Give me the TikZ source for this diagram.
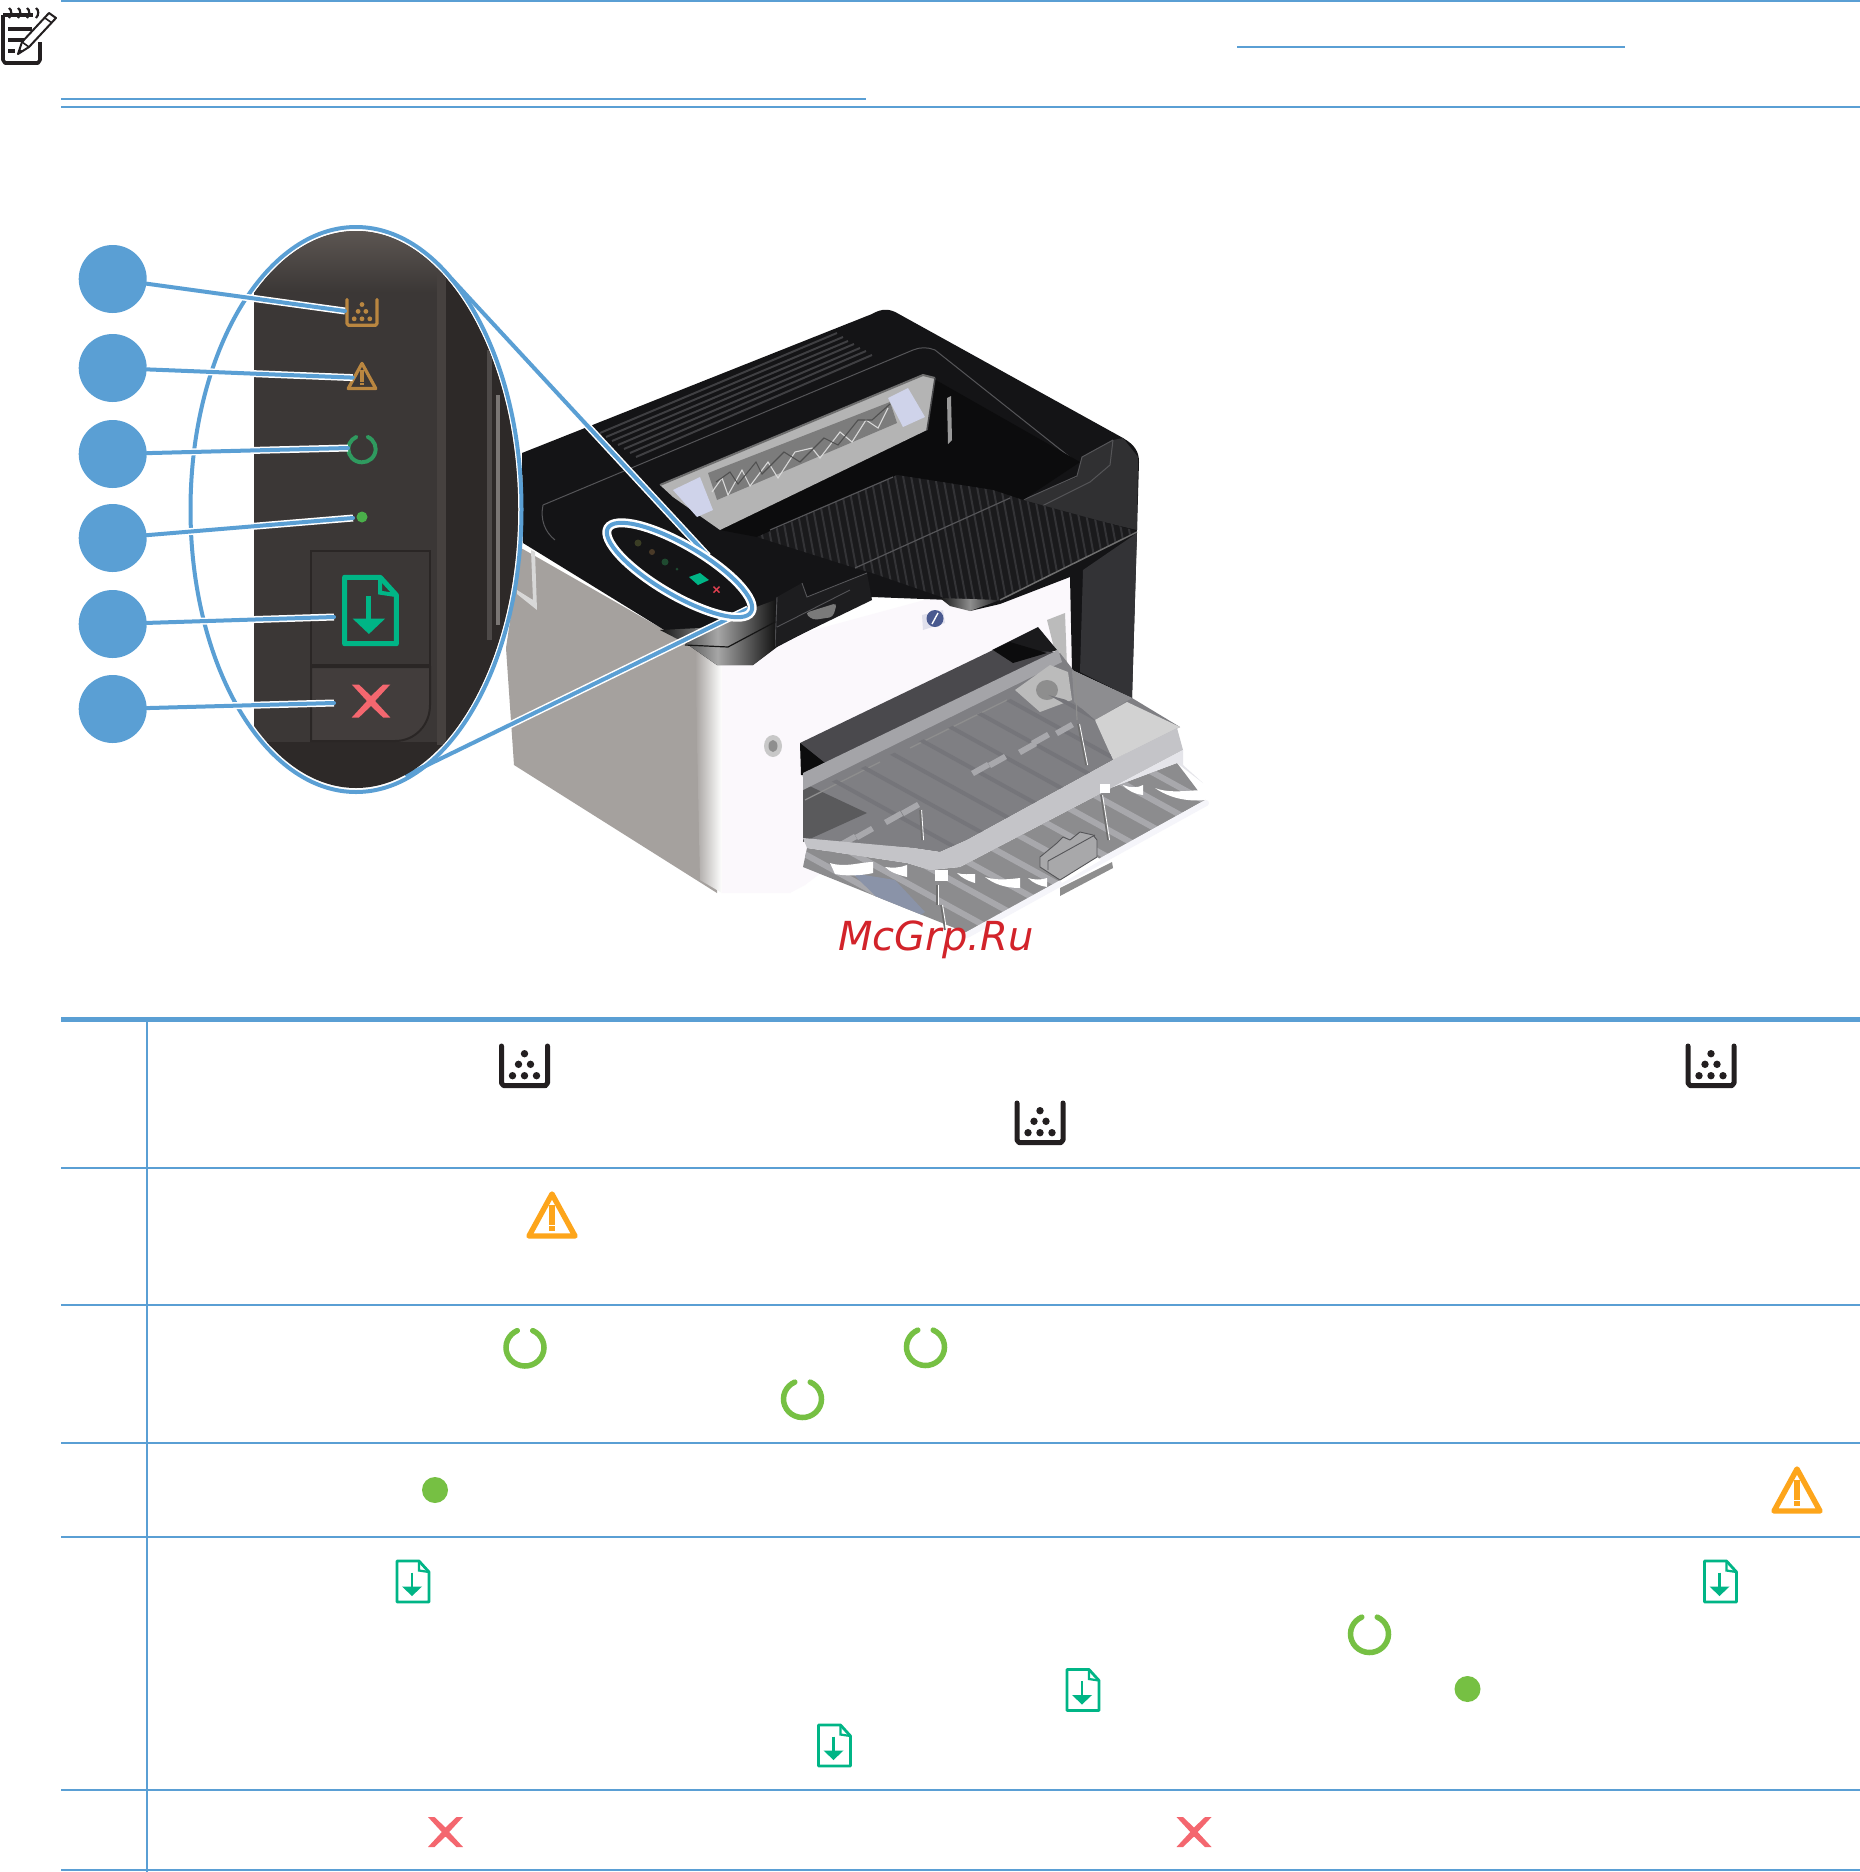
\documentclass[tikz,border=0pt]{standalone}
\usepackage{fontspec}
\newfontfamily\wmfont{DejaVu Sans}
\usetikzlibrary{shapes.geometric,calc}
\definecolor{hpblue}{HTML}{5A9FD4}
\definecolor{iamber}{HTML}{FDA51B}
\definecolor{igreen}{HTML}{76C043}
\definecolor{idoc}{HTML}{00B586}
\definecolor{ired}{HTML}{F4676F}
\definecolor{ink}{HTML}{231F20}
\definecolor{pamber}{HTML}{B98640}
\definecolor{pgreen}{HTML}{2F9A5F}
\definecolor{wmred}{HTML}{D2232A}
\definecolor{pbase}{HTML}{3B3736}
\definecolor{pdark}{HTML}{2D2928}
\definecolor{side}{HTML}{A5A19E}
\definecolor{blk}{HTML}{141416}
\newcommand{\hx}[1]{\definecolor{c#1}{HTML}{#1}}
\hx{0C0C0D}\hx{1A1A1C}\hx{333336}\hx{303032}\hx{3F3F42}\hx{4A4A4C}\hx{555558}\hx{7C7C7C}\hx{B4B4B4}\hx{6E6E6E}\hx{D8D8D8}\hx{505050}\hx{CFD3EA}\hx{9A9A9A}\hx{151515}\hx{1D1D1F}\hx{7A7A7A}\hx{8E8E8E}\hx{A6A6A6}\hx{E0E0EC}\hx{4A5A90}\hx{C8C8C8}\hx{4A494D}\hx{BBBBBB}\hx{7F7F83}\hx{75757A}\hx{5A5A5C}\hx{A4A4A8}\hx{D2D2D2}\hx{8C8C8E}\hx{A8A8AC}\hx{8A93A8}\hx{A8A8AA}\hx{C4C4C8}\hx{E5E5EA}\hx{F5F5FA}\hx{FBF8FC}\hx{E04050}\hx{3A3D24}\hx{4A3A28}\hx{1F4A30}\hx{5F5854}\hx{46413F}\hx{4E4A49}\hx{7A7674}\hx{2A2625}\hx{423D3C}\hx{4AAF4A}\hx{8D8D90}
\newcommand{\tonerIcon}[4]{\begin{scope}[shift={(#1,#2)},scale=#3]
 \draw[#4,line width=#3*5pt,line cap=round,line join=round] (-23,-20)--(-23,17)--(-21,19.5)--(21,19.5)--(23,17)--(23,-20);
 \fill[#4] (-22,17.5) rectangle (22,22);
 \foreach \a/\b in {0/-12.3,-6/-1.7,6/-1.7,-12/9.7,0/9.7,12/9.7}{\fill[#4] (\a,\b) circle[radius=3.7];}
\end{scope}}
\newcommand{\warnIcon}[4]{\begin{scope}[shift={(#1,#2)},scale=#3]
 \draw[#4,line width=#3*5.4pt,line join=round] (0,-21)--(23,21)--(-23,21)--cycle;
 \fill[#4] (-3,-10.5) rectangle (3,9.5);
 \fill[#4] (-3,11) rectangle (3,15.5);
\end{scope}}
\newcommand{\ringIcon}[4]{\draw[#4,line width=#3*5.5pt,line cap=round] (#1,#2) ++(-66:#3*19 and #3*18.5) arc[start angle=-66,end angle=246,x radius=#3*19,y radius=#3*18.5];}
\newcommand{\docIcon}[5]{\begin{scope}[shift={(#1,#2)},scale=#3]
 \draw[#4,line width=#5,line join=round] (-16,-20.5)--(6,-20.5)--(16,-9.5)--(16,20.5)--(-16,20.5)--cycle;
 \draw[#4,line width=#5*.8] (6,-20.5)--(6,-11)--(16,-9.5);
 \draw[#4,line width=#5] (-1,-9)--(-1,6);
 \fill[#4] (-11,5)--(9,5)--(-1,14.5)--cycle;
\end{scope}}
\newcommand{\xIcon}[3]{\begin{scope}[shift={(#1,#2)},scale=#3]
 \fill[ired] (-17.5,-15)--(-11,-15)--(0,-4.5)--(11,-15)--(17.5,-15)--(3.7,0)--(17.5,15)--(11,15)--(0,4.5)--(-11,15)--(-17.5,15)--(-3.7,0)--cycle;
\end{scope}}
\tikzset{
 rule/.style={hpblue,line width=2pt},
 thick rule/.style={hpblue,line width=5pt},
 callout/.style={circle,fill=hpblue,minimum size=68pt,inner sep=0pt},
 halo/.style={preaction={draw,white,line width=7pt},draw=hpblue,line width=4pt,line cap=round},
 oval/.style={ellipse,draw=hpblue,inner sep=0pt},
}
\begin{document}
\begin{tikzpicture}[x=1pt,y=-1pt]
\useasboundingbox (0,0) rectangle (1860,1872);
\fill[white] (0,0) rectangle (1860,1872);
%% ---- note block
\draw[rule] (61,1)--(1860,1);
\draw[rule] (1237,47)--(1625,47);
\draw[rule] (61,99)--(866,99);
\draw[rule] (61,107)--(1860,107);
% note icon
\draw[ink,line width=3.6pt,line join=round] (3,15)--(3,60)--(5,63)--(38,63)--(40,60)--(40,42);
\draw[ink,line width=3.4pt] (3,15)--(33,15);
\foreach \a in {9,18,27,36}{\draw[ink,line width=2.2pt] (\a,8) .. controls (\a+3,10) and (\a+3,15) .. (\a,18);}
\draw[ink,line width=4pt] (8,29)--(32,29);
\draw[ink,line width=4pt] (8,40)--(24,40);
\draw[ink,line width=4pt] (8,51)--(15,51);
\draw[ink,line width=2pt,line join=round] (18,54)--(22,42)--(49,13)--(56,18)--(29,47)--cycle;
\draw[ink,line width=1.6pt] (22,42)--(29,47) (45,18)--(52,23);
\fill[ink] (18,54)--(19.5,49)--(23,51)--cycle;
%% ---- printer : side
\fill[side] (521,548)--(506,648)--(514,765)--(717,893)--(717,660)--cycle;
\shade[left color=side,right color=white] (695,650)--(722,665)--(722,893)--(700,880)--cycle;
\fill[cD8D8D8] (531,550)--(535,552)--(537,610)--(517,594)--(517,590)--(533,600)--cycle;
% front
\fill[cFBF8FC] (722,662)--(777,640)--(1072,560)--(1075,680)--(805,885)--(790,893)--(722,893)--cycle;
% body
\fill[blk] (522,453)--(872,314) .. controls (882,308) and (890,309) .. (897,313)--(1123,438) .. controls (1135,445) and (1139,452) .. (1139,462)--(1132,698)--(1072,670)--(1070,577)--(1000,604)--(970,611)--(950,600)--(872,597)--(777,647)--(753,665)--(717,665)--(687,644)--(523,543)--cycle;
% column
\fill[c333336] (1083,570)--(1137,533)--(1132,698)--(1080,672)--cycle;
% bumper
\fill[c303032] (1023,500)--(1077,477)--(1082,457)--(1113,440)--(1123,438)--(1138,457)--(1137,530)--(1040,507)--cycle;
\draw[c555558,line width=1pt] (1023,500)--(1077,476)--(1082,457)--(1113,440) (1040,507)--(1090,482)--(1110,465)--(1113,440);
% ridges
\foreach \a/\b/\c/\d in {600/433/837/333,606/437/843/337,612/441/848/341,618/445/854/344,624/449/860/348,630/453/866/351,636/457/872/355}{\draw[c3F3F42,line width=2pt] (\a,\b)--(\c,\d);}
\draw[c555558,line width=1pt] (543,505) .. controls (540,520) and (545,532) .. (555,540);
\draw[c555558,line width=1pt] (543,505)--(913,350) .. controls (920,347) and (928,347) .. (935,350)--(1076,462);
% recess
\fill[c0C0C0D] (720,530)--(927,375)--(1080,462)--(1023,500)--(993,490)--(897,475)--(757,537)--cycle;
% exit window
\fill[cB4B4B4] (660,485)--(923,375)--(935,378)--(927,430)--(720,530)--(673,497)--cycle;
\fill[c7C7C7C] (708,473)--(890,402)--(897,423)--(717,500)--cycle;
\draw[c6E6E6E,line width=2pt] (660,485)--(923,375)--(935,378);
\draw[c4A4A4C,line width=1.5pt] (935,378)--(927,430);
\draw[cD8D8D8,line width=1.1pt] (712,492)--(722,478)--(728,495)--(742,470)--(750,486)--(768,462)--(778,478)--(795,452)--(812,448)--(820,458)--(840,432)--(852,442)--(866,420)--(878,428)--(888,408);
\draw[c505050,line width=1.1pt] (716,482)--(730,472)--(738,484)--(756,462)--(762,474)--(784,452)--(800,462)--(824,438)--(838,445)--(858,420)--(872,420)--(890,404);
\fill[cCFD3EA] (673,490)--(700,477)--(713,510)--(697,517)--cycle;
\fill[cCFD3EA] (888,398)--(908,388)--(925,417)--(903,427)--cycle;
\fill[c9A9A9A] (947,398)--(951,396)--(952,440)--(948,444)--cycle;
% output tray
\begin{scope}
 \clip (757,537)--(897,475)--(993,490)--(1023,500)--(1137,531)--(1000,600)--(970,610)--(950,600)--(872,573)--(855,568)--cycle;
 \fill[c1A1A1C] (740,460) rectangle (1140,620);
 \foreach \d in {0,8,...,420}{\draw[c333336,line width=2pt] (740+\d,460)--(770+\d,620);}
\end{scope}
\draw[c555558,line width=1.2pt] (770,530)--(893,477) (855,568)--(1010,498);
\draw[c6E6E6E,line width=1.5pt] (1137,532)--(1000,600);
\shade[left color=c151515,right color=c1A1A1C,middle color=c8E8E8E] (940,598)--(1000,600)--(970,611)--(950,606)--cycle;
% latch
\fill[c1D1D1F] (777,597)--(802,583)--(807,597)--(867,573)--(872,600)--(775,647)--cycle;
\draw[c555558,line width=.9pt] (777,597)--(775,647) (777,627)--(850,590) (802,583)--(807,597)--(867,573);
\fill[c7A7A7A,rounded corners=4pt] (805,613)--(837,603)--(833,617)--(813,620)--cycle;
% chrome
\shade[left color=c151515,right color=c151515,middle color=cA6A6A6] (660,630)--(700,628)--(775,600)--(775,648)--(753,665)--(717,665)--(687,644)--cycle;
\draw[c151515,line width=1.2pt] (685,645)--(728,647)--(775,622);
% hp logo
\fill[cE0E0EC] (922,615)--(943,610)--(945,623)--(923,630)--cycle;
\fill[c4A5A90] (935,618.5) circle[radius=8.5];
\draw[white,line width=1.4pt] (932,624)--(938,613);
% knob
\fill[cC8C8C8] (773,746) ellipse[x radius=9,y radius=11];
\fill[c8E8E8E] (773,746) ellipse[x radius=4.5,y radius=6];
% front opening
\fill[cBBBBBB] (1047,620)--(1065,613)--(1067,667)--(1057,660)--cycle;
\fill[c1A1A1C] (992,650)--(1038,627)--(1057,650)--(1012,665)--cycle;
\fill[c4A494D] (800,743)--(993,650)--(1057,652)--(803,777)--cycle;
\fill[c0C0C0D] (800,743)--(825,763)--(806,775)--(801,775)--cycle;
\fill[c0C0C0D] (993,650)--(1010,642)--(1047,653)--(1013,663)--cycle;
% paper tray : rear part
\fill[c7F7F83] (803,780)--(1060,653)--(1074,671)--(1132,698)--(1180,727)--(1113,760)--(967,840)--(940,852)--(913,848)--(803,840)--cycle;
\fill[c5A5A5C] (803,783)--(867,813)--(803,842)--cycle;
\fill[cA4A4A8] (803,773)--(1058,650)--(1062,662)--(803,790)--cycle;
\draw[c8E8E8E,line width=1.3pt] (805,800)--(880,762) (910,748)--(1007,700);
\fill[cBBBBBB] (1015,690)--(1050,665)--(1068,672)--(1072,700)--(1040,712)--cycle;
\fill[c8E8E8E] (1047,690) ellipse[x radius=11,y radius=10];
\fill[c8D8D90] (1072,670)--(1132,698)--(1095,720)--(1074,702)--cycle;
\fill[cD2D2D2] (1095,720)--(1127,702)--(1180,727)--(1113,760)--cycle;
% ribs of the rear part
\begin{scope}
 \clip (803,795)--(1030,690)--(1074,702)--(1095,720)--(1113,760)--(967,840)--(940,852)--(913,848)--(803,840)--cycle;
 \foreach \s in {0,28,...,360}{\draw[c75757A,line width=4pt] (815+\s,770-\s*.5)--(960+\s,850-\s*.5);}
\end{scope}
\foreach \px/\py in {830/851,847/840,864/832,893/817,910/808,980/768,997/760,1027/747,1040/738,1064/728}{\fill[cA8A8AC] (\px-9,\py+3)--(\px+7,\py-6)--(\px+10,\py-1)--(\px-6,\py+8)--cycle;}
% paper tray : front part
\fill[c8C8C8E] (803,867)--(807,848)--(907,863)--(930,870)--(960,867)--(1113,787)--(1177,763)--(1205,800)--(967,933)--cycle;
\begin{scope}
 \clip (803,867)--(807,848)--(907,863)--(930,870)--(960,867)--(1113,787)--(1177,763)--(1205,800)--(967,933)--cycle;
 \foreach \s in {0,26,...,520}{\draw[cA8A8AC,line width=6pt] (770+\s,835-\s*.5)--(990+\s,956-\s*.5);}
 \fill[c8A93A8] (852,873)--(895,880)--(925,912)--(905,925)--cycle;
\end{scope}
% translucent band
\fill[cC4C4C8] (1177,728)--(1113,760)--(967,840)--(940,852)--(913,848)--(803,838)--(807,848)--(907,863)--(930,870)--(960,867)--(1113,787)--(1183,750)--cycle;
\fill[cE5E5EA] (1183,750)--(1183,765)--(1203,783)--(1177,763)--(1113,787)--cycle;
% crescents
\fill[white] (830,863) .. controls (845,868) and (860,862) .. (873,862)--(873,873) .. controls (860,876) and (845,876) .. (835,874)--cycle;
\fill[white] (885,867) .. controls (892,868) and (900,868) .. (907,865)--(907,877) .. controls (898,875) and (890,872) .. (885,867)--cycle;
\fill[white] (957,873) .. controls (963,875) and (970,874) .. (975,874)--(975,883) .. controls (968,881) and (962,878) .. (957,873)--cycle;
\fill[white] (985,877) .. controls (998,881) and (1010,879) .. (1020,878)--(1020,888) .. controls (1005,888) and (994,884) .. (985,877)--cycle;
\fill[white] (1028,878) .. controls (1034,880) and (1042,880) .. (1047,878)--(1047,887) .. controls (1040,886) and (1033,883) .. (1028,878)--cycle;
\fill[white] (1123,785) .. controls (1130,788) and (1138,788) .. (1143,785)--(1143,795) .. controls (1135,794) and (1128,791) .. (1123,785)--cycle;
\fill[white] (1155,788) .. controls (1170,794) and (1190,790) .. (1205,790)--(1205,800) .. controls (1185,802) and (1168,797) .. (1155,788)--cycle;
\fill[white] (935,870) rectangle (948,881);
\fill[white] (1100,784) rectangle (1110,793);
% lip and posts
\draw[cF5F5FA,line width=6pt,line cap=round] (1206,803)--(967,935);
\foreach \a/\b/\c/\d in {920/810/922/840,1101/795/1108/840,937/885/937/905,1078/724/1086/765,941/905/945/930}{\draw[c6E6E6E,line width=1.6pt] (\a,\b)--(\c,\d); \draw[white,line width=.8pt] (\a+1.6,\b)--(\c+1.6,\d);}
\draw[c8E8E8E,line width=1.2pt] (1075,672)--(1077,720);
% slider
\fill[c8E8E8E] (1060,888)--(1112,862)--(1113,868)--(1060,896)--cycle;
\fill[white] (1097,857)--(1101,860)--(1062,883)--(1060,880)--cycle;
\draw[c555558,line width=.9pt,fill=cA8A8AA,line join=round] (1040,857)--(1057,843)--(1063,837)--(1070,840)--(1080,832)--(1093,835)--(1097,840)--(1097,857)--(1060,880)--(1040,867)--cycle;
\draw[c555558,line width=.9pt] (1048,861)--(1095,835) (1048,861)--(1048,870);
% tiny panel marks
\fill[idoc] (689,577)--(700,573)--(709,580)--(698,585)--cycle;
\fill[cE04050] (714,586)--(720,592)--(719,593)--(713,587)--cycle;
\fill[cE04050] (719,586)--(720,587)--(714,593)--(713,592)--cycle;
\fill[c3A3D24] (638,543) circle[radius=3.5];
\fill[c4A3A28] (652,552) circle[radius=3];
\fill[c1F4A30] (665,562) circle[radius=3.5];
\fill[c1F4A30] (677,569) circle[radius=1.5];
%% ---- watermark
\node[inner sep=0pt,anchor=base,text=wmred] (wm) at (936,950) {\fontsize{40pt}{44pt}\selectfont\wmfont\itshape McGrp.Ru};
%% ---- small oval and magnifier legs
\coordinate (legAa) at (451.7,279);
\coordinate (legAb) at (708,556);
\coordinate (legBa) at (407,775);
\coordinate (legBb) at (748,609);
\draw[halo] (legAa)--(legAb);
\draw[halo] (legBa)--(legBb);
\node[oval,rotate=-30.4,minimum width=166pt,minimum height=50pt,line width=4pt,preaction={draw=white,line width=9pt}] (smalloval) at (679.5,570) {};
%% ---- zoomed panel
\begin{scope}
 \clip (356,509.5) ellipse[x radius=162,y radius=278.5];
 \fill[pbase,rounded corners=14pt] (254,200) rectangle (560,746);
 \fill[pdark,rounded corners=14pt] (254,742) rectangle (560,820);
 \shade[top color=c5F5854,bottom color=pbase] (254,226) rectangle (437,292);
 \fill[pdark] (437,220) rectangle (560,800);
 \fill[c46413F] (437,245) rectangle (446,745);
 \fill[c4E4A49] (487,350) rectangle (492,640);
 \fill[c7A7674] (496,395) rectangle (500,625);
 \draw[c2A2625,line width=2pt,fill=pbase] (311,551) rectangle (430,665);
 \draw[c2A2625,line width=2pt,fill=c423D3C] (311,667)--(430,667)--(430,705) .. controls (430,725) and (415,741) .. (395,741)--(311,741)--cycle;
 \tonerIcon{362}{312.5}{.65}{pamber}
 \warnIcon{362}{376}{.6}{pamber}
 \ringIcon{362}{449}{.72}{pgreen}
 \fill[c4AAF4A] (362,517) circle[radius=5.5];
 \docIcon{370.5}{610.5}{1.62}{idoc}{5pt}
 \xIcon{371}{701}{1.1}
\end{scope}
\node[oval,minimum width=331pt,minimum height=565pt,line width=4pt] (bigoval) at (356,509.5) {};
%% ---- callouts
\foreach \n/\y in {1/279,2/368,3/454,4/538,5/624,6/709}{\node[callout] (c\n) at (112.7,\y) {};}
\coordinate (e1) at (345,311);
\coordinate (e2) at (352.7,377.6);
\coordinate (e3) at (348,448);
\coordinate (e4) at (353,518);
\coordinate (e5) at (334,617);
\coordinate (e6) at (334,703);
\foreach \n in {1,...,6}{\draw[halo] (c\n)--(e\n);}
%% ---- table
\draw[thick rule] (61,1019.5)--(1860,1019.5);
\draw[rule] (147,1017)--(147,1872);
\foreach \y in {1168,1305,1443,1537,1790,1870}{\draw[rule] (61,\y)--(1860,\y);}
%% ---- inline icons
\tonerIcon{524.5}{1066}{1}{ink}
\tonerIcon{1711}{1066}{1}{ink}
\tonerIcon{1040}{1123}{1}{ink}
\warnIcon{552}{1215}{1}{iamber}
\warnIcon{1797}{1490}{1}{iamber}
\ringIcon{525}{1347.5}{1}{igreen}
\ringIcon{925.5}{1347}{1}{igreen}
\ringIcon{802.5}{1399}{1}{igreen}
\ringIcon{1369.5}{1634}{1}{igreen}
\fill[igreen] (435,1490) circle[radius=13];
\fill[igreen] (1467.5,1689) circle[radius=13];
\docIcon{413}{1581.5}{1}{idoc}{2.8pt}
\docIcon{1720.5}{1581.5}{1}{idoc}{2.8pt}
\docIcon{1083}{1690}{1}{idoc}{2.8pt}
\docIcon{834.5}{1745.5}{1}{idoc}{2.8pt}
\xIcon{445.5}{1832}{1}
\xIcon{1194}{1832}{1}
\end{tikzpicture}
\end{document}
